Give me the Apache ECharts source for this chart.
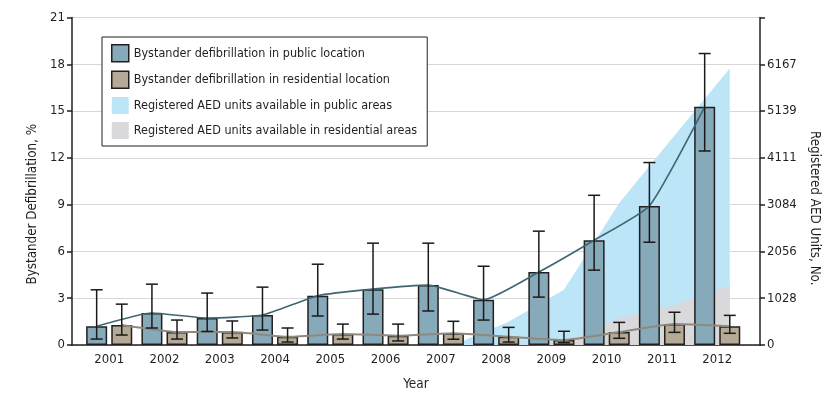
<!DOCTYPE html>
<html>
<head>
<meta charset="utf-8">
<script src="https://cdn.jsdelivr.net/npm/echarts@6/dist/echarts.min.js"></script>
<style>
html,body{margin:0;padding:0;background:#fff;}
#chart{width:833px;height:400px;}
</style>
</head>
<body>
<div id="chart"></div>
<script>
// ---- data ----
const years = [2001, 2002, 2003, 2004, 2005, 2006, 2007, 2008, 2009, 2010, 2011, 2012];
const publicPct = [1.2, 2.05, 1.73, 1.92, 3.16, 3.58, 3.84, 2.9, 4.68, 6.72, 8.92, 15.27];
const publicLow = [0.38, 1.09, 0.87, 0.96, 1.86, 1.98, 2.18, 1.6, 3.07, 4.8, 6.59, 12.44];
const publicHigh = [3.54, 3.9, 3.33, 3.71, 5.18, 6.53, 6.53, 5.05, 7.3, 9.6, 11.7, 18.69];
const residentialPct = [1.28, 0.83, 0.83, 0.53, 0.7, 0.6, 0.75, 0.53, 0.32, 0.83, 1.35, 1.2];
const residentialLow = [0.64, 0.38, 0.45, 0.19, 0.38, 0.26, 0.37, 0.19, 0.15, 0.43, 0.81, 0.75];
const residentialHigh = [2.62, 1.6, 1.54, 1.09, 1.34, 1.34, 1.52, 1.13, 0.88, 1.45, 2.1, 1.9];
const publicAED = [0, 0, 0, 0, 0, 0, 0, 510, 1215, 3120, 4600, 6075];
const residentialAED = [0, 0, 0, 0, 0, 0, 0, 0, 60, 590, 880, 1300];
const leftTicks = { min: 0, max: 21, interval: 3 };
const rightTicks = { min: 0, max: 7195, interval: 7195 / 7 };

const NAMES = {
  pub: 'Bystander defibrillation in public location',
  res: 'Bystander defibrillation in residential location',
  pubAED: 'Registered AED units available in public areas',
  resAED: 'Registered AED units available in residential areas'
};

// ---- styling / layout ----
const FONT = '"Liberation Sans Narrow", "DejaVu Sans Condensed", "Roboto", sans-serif';
const TXT = '#231f20';
const C_PUB = '#86aab9', C_RES = '#b5aa96', C_PUBAED = '#bce5f8', C_RESAED = '#d9d9db';
const SHIFT = 0.227; // half distance between paired bar centers, in years

const chart = echarts.init(document.getElementById('chart'), null, { renderer: 'canvas' });

function errSeries(xs, lo, hi) {
  return {
    type: 'custom',
    z: 6,
    silent: true,
    data: xs.map((x, i) => [x, lo[i], hi[i]]),
    encode: { x: 0, y: [1, 2] },
    renderItem: function (params, api) {
      const x = api.value(0);
      const a = api.coord([x, api.value(1)]);
      const b = api.coord([x, api.value(2)]);
      const hw = 6;
      const st = { stroke: '#1a1a1a', lineWidth: 1.5 };
      return {
        type: 'group',
        children: [
          { type: 'line', shape: { x1: a[0], y1: a[1], x2: b[0], y2: b[1] }, style: st },
          { type: 'line', shape: { x1: a[0] - hw, y1: a[1], x2: a[0] + hw, y2: a[1] }, style: st },
          { type: 'line', shape: { x1: b[0] - hw, y1: b[1], x2: b[0] + hw, y2: b[1] }, style: st }
        ]
      };
    }
  };
}

const pubX = years.map(y => y - SHIFT);
const resX = years.map(y => y + SHIFT);

const option = {
  animation: false,
  backgroundColor: '#fff',
  textStyle: { fontFamily: FONT, color: TXT },
  grid: { left: 72, right: 73, top: 17.5, bottom: 55, containLabel: false, outerBoundsMode: 'none' },
  legend: {
    orient: 'vertical',
    left: 102, top: 37,
    itemWidth: 17, itemHeight: 17, itemGap: 8,
    padding: [7, 10, 7, 9],
    borderColor: '#231f20', borderWidth: 1, backgroundColor: '#fff',
    textStyle: { fontFamily: FONT, fontSize: 12.5, color: TXT },
    selectedMode: false,
    data: [
      { name: NAMES.pub, icon: 'rect', itemStyle: { color: C_PUB, borderColor: '#231f20', borderWidth: 1.5 } },
      { name: NAMES.res, icon: 'rect', itemStyle: { color: C_RES, borderColor: '#231f20', borderWidth: 1.5 } },
      { name: NAMES.pubAED, icon: 'rect', itemStyle: { color: C_PUBAED, borderWidth: 0 } },
      { name: NAMES.resAED, icon: 'rect', itemStyle: { color: C_RESAED, borderWidth: 0 } }
    ]
  },
  xAxis: {
    type: 'value',
    min: 2000.327, max: 2012.774,
    name: 'Year', nameLocation: 'middle', nameGap: 32,
    nameTextStyle: { fontFamily: FONT, fontSize: 13.5, color: TXT },
    axisLine: { show: true, onZero: false, lineStyle: { color: '#231f20', width: 1.5 } },
    axisTick: { show: false },
    splitLine: { show: false },
    axisLabel: {
      customValues: years,
      formatter: v => String(Math.round(v)),
      fontFamily: FONT, fontSize: 13, color: TXT, margin: 8
    }
  },
  yAxis: [
    {
      type: 'value', position: 'left',
      min: leftTicks.min, max: leftTicks.max, interval: leftTicks.interval,
      name: 'Bystander Defibrillation, %', nameLocation: 'middle', nameGap: 33, nameRotate: 90,
      nameTextStyle: { fontFamily: FONT, fontSize: 13.3, color: TXT, padding: [0, 46, 0, 0] },
      axisLine: { show: true, lineStyle: { color: '#231f20', width: 1.5 } },
      axisTick: { show: true, length: 5, lineStyle: { color: '#231f20', width: 1.5 } },
      axisLabel: { fontFamily: FONT, fontSize: 13, color: TXT, margin: 7 },
      splitLine: { show: true, lineStyle: { color: '#d8d8d8', width: 1.2 } }
    },
    {
      type: 'value', position: 'right',
      min: rightTicks.min, max: rightTicks.max, interval: rightTicks.interval,
      name: 'Registered AED Units, No.', nameLocation: 'middle', nameGap: 48, nameRotate: -90,
      nameTextStyle: { fontFamily: FONT, fontSize: 13.3, color: TXT, padding: [0, 0, 0, 54] },
      axisLine: { show: true, lineStyle: { color: '#231f20', width: 1.5 } },
      axisTick: { show: true, length: 5, lineStyle: { color: '#231f20', width: 1.5 } },
      axisLabel: {
        fontFamily: FONT, fontSize: 13, color: TXT, margin: 7,
        formatter: v => (v >= rightTicks.max - 1 ? '' : String(Math.round(v)))
      },
      splitLine: { show: false }
    }
  ],
  series: [
    {
      name: NAMES.pubAED, type: 'line', yAxisIndex: 1, z: 1,
      data: resX.map((x, i) => [x, publicAED[i]]),
      showSymbol: false, symbol: 'none', color: C_PUBAED,
      lineStyle: { width: 0 }, areaStyle: { color: C_PUBAED, opacity: 1 }
    },
    {
      name: NAMES.resAED, type: 'line', yAxisIndex: 1, z: 1,
      data: resX.map((x, i) => [x, residentialAED[i]]),
      showSymbol: false, symbol: 'none', color: C_RESAED,
      lineStyle: { width: 0 }, areaStyle: { color: C_RESAED, opacity: 1 }
    },
    {
      name: NAMES.pub, type: 'bar', z: 3,
      data: years.map((y, i) => [y, publicPct[i]]),
      barWidth: 21, barGap: '19.5%',
      itemStyle: { color: C_PUB, borderColor: '#231f20', borderWidth: 1.5 }
    },
    {
      name: NAMES.res, type: 'bar', z: 3,
      data: years.map((y, i) => [y, residentialPct[i]]),
      barWidth: 21, barGap: '19.5%',
      itemStyle: { color: C_RES, borderColor: '#231f20', borderWidth: 1.5 }
    },
    {
      type: 'line', z: 5, smooth: 0.15, symbol: 'none', silent: true,
      data: pubX.map((x, i) => [x, publicPct[i]]),
      lineStyle: { color: '#3f6573', width: 1.6 }
    },
    {
      type: 'line', z: 5, smooth: 0.15, symbol: 'none', silent: true,
      data: resX.map((x, i) => [x, residentialPct[i]]),
      lineStyle: { color: '#8e897f', width: 2 }
    },
    errSeries(pubX, publicLow, publicHigh),
    errSeries(resX, residentialLow, residentialHigh)
  ]
};
chart.setOption(option);
</script>
</body>
</html>
